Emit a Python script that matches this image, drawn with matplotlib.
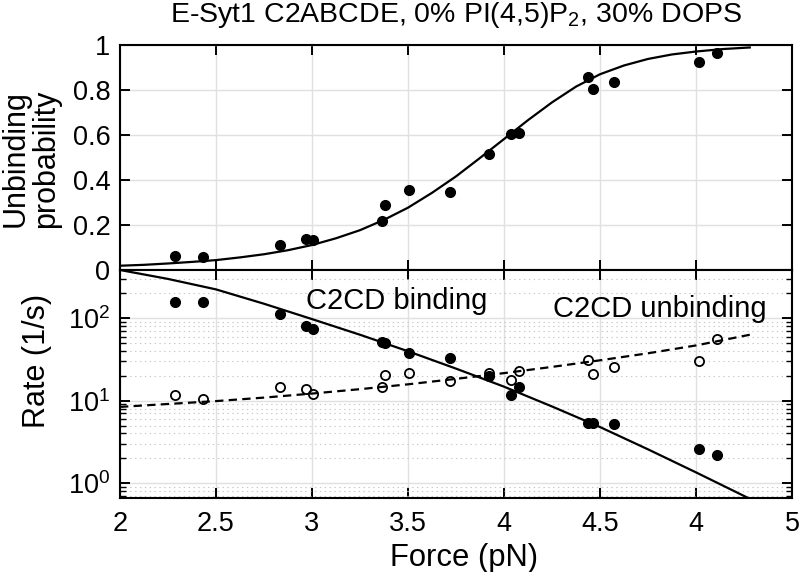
import matplotlib
matplotlib.use("Agg")
import matplotlib.pyplot as plt
from matplotlib.ticker import LogLocator, NullFormatter, FixedLocator

plt.rcParams['font.family'] = ['Liberation Sans', 'DejaVu Sans']
plt.rcParams['mathtext.fontset'] = 'custom'
plt.rcParams['mathtext.rm'] = 'Liberation Sans'
plt.rcParams['mathtext.it'] = 'Liberation Sans:italic'
plt.rcParams['lines.scale_dashes'] = False

# ---------------- data ----------------
force = [2.286, 2.434, 2.833, 2.969, 3.003, 3.363, 3.380, 3.507, 3.719,
         3.924, 4.036, 4.080, 4.439, 4.465, 4.575, 5.016, 5.111]
prob = [0.064, 0.056, 0.110, 0.139, 0.133, 0.219, 0.289, 0.356, 0.345,
        0.516, 0.603, 0.607, 0.856, 0.803, 0.834, 0.923, 0.963]
rate_bind = [159, 158, 112, 81, 74, 52, 50, 38, 33,
             20.0, 11.7, 14.8, 5.3, 5.3, 5.2, 2.6, 2.2]
rate_unbind = [11.8, 10.4, 14.8, 13.8, 12.0, 14.8, 20.4, 21.5, 17.5,
               21.5, 17.9, 23.2, 31.0, 21.3, 25.5, 30.6, 55.6]

# fitted curves
fit_force_p = [2.0, 2.125, 2.25, 2.375, 2.5, 2.625, 2.75, 2.875, 3.0, 3.125,
               3.25, 3.375, 3.5, 3.625, 3.75, 3.875, 4.0, 4.125, 4.25, 4.375,
               4.5, 4.625, 4.75, 4.875, 5.0, 5.14, 5.28]
fit_prob = [0.019, 0.023, 0.029, 0.036, 0.044, 0.056, 0.070, 0.088, 0.111, 0.141,
            0.177, 0.223, 0.277, 0.343, 0.416, 0.498, 0.582, 0.666, 0.745, 0.815,
            0.870, 0.909, 0.938, 0.958, 0.971, 0.982, 0.989]
fit_force_k = [2.0, 2.25, 2.5, 2.75, 3.0, 3.25, 3.5, 3.75, 4.0, 4.25, 4.5, 4.75, 5.0, 5.28]
fit_bind = [385, 300, 224, 150, 97.7, 63.1, 39.8, 24.5, 14.8, 8.51, 4.79, 2.57, 1.35, 0.646]
fit_unbind = [8.41, 9.12, 9.89, 10.9, 12.2, 13.8, 15.8, 18.4, 21.6, 25.7, 30.9, 37.6, 46.8, 63.1]

xticks = [2.0, 2.5, 3.0, 3.5, 4.0, 4.5, 5.0, 5.5]
xticklabels = ['2', '2.5', '3', '3.5', '4', '4.5', '4', '5']
prob_ticks = [0, 0.2, 0.4, 0.6, 0.8, 1.0]
prob_ticklabels = ['0', '0.2', '0.4', '0.6', '0.8', '1']
rate_ticks = [1, 10, 100]
rate_ticklabels = ['$10^0$', '$10^1$', '$10^2$']

title = 'E-Syt1 C2ABCDE, 0% PI(4,5)P$_2$, 30% DOPS'

# ---------------- figure ----------------
fig = plt.figure(figsize=(8, 5.72), dpi=100)
ax1 = fig.add_axes([0.15, 0.52797, 0.84, 0.39336])
ax2 = fig.add_axes([0.15, 0.12937, 0.84, 0.3986])

TICK_FS = 19.5
grid_col = '#e0e0e0'

for ax in (ax1, ax2):
    for s in ax.spines.values():
        s.set_linewidth(1.5)
        s.set_color('black')
    ax.set_xlim(2.0, 5.5)
    ax.set_xticks(xticks)
    ax.tick_params(which='major', direction='in', length=7, width=1.4,
                   top=True, right=True, labelsize=TICK_FS, pad=7)
    ax.tick_params(which='minor', direction='in', length=4, width=1.0,
                   top=True, right=True)
    ax.set_axisbelow(True)
    ax.grid(True, which='major', color=grid_col, linewidth=1.0, linestyle='-')

# top panel
ax1.plot(fit_force_p, fit_prob, color='black', linewidth=1.6, zorder=3)
ax1.plot(force, prob, linestyle='none', marker='o', markersize=7,
         markerfacecolor='black', markeredgecolor='black', zorder=4)
ax1.set_ylim(0, 1)
ax1.set_yticks(prob_ticks)
ax1.set_yticklabels(prob_ticklabels)
ax1.tick_params(axis='x', labelbottom=False)

# bottom panel
ax2.set_yscale('log')
ax2.plot(fit_force_k, fit_bind, color='black', linewidth=1.6, zorder=3)
ax2.plot(fit_force_k, fit_unbind, color='black', linewidth=1.6,
         dashes=(6, 3.8), zorder=3)
ax2.plot(force, rate_unbind, linestyle='none', marker='o', markersize=6.6,
         markerfacecolor='none', markeredgecolor='black', markeredgewidth=1.3, zorder=4)
ax2.plot(force, rate_bind, linestyle='none', marker='o', markersize=7,
         markerfacecolor='black', markeredgecolor='black', zorder=5)
ax2.set_ylim(0.66, 385)
ax2.yaxis.set_major_locator(FixedLocator(rate_ticks))
ax2.set_yticklabels(rate_ticklabels)
ax2.yaxis.set_minor_locator(LogLocator(base=10, subs=[2, 3, 4, 5, 6, 7, 8, 9]))
ax2.yaxis.set_minor_formatter(NullFormatter())
ax2.grid(True, which='minor', axis='y', color='#c8c8c8', linewidth=0.8,
         linestyle=(0, (1, 2.5)))
ax2.set_xticklabels(xticklabels)
ax2.tick_params(axis='x', pad=9)

ax2.text(2.97, 128.5, 'C2CD binding', fontsize=21, ha='left', va='baseline')
ax2.text(4.257, 104.5, 'C2CD unbinding', fontsize=21, ha='left', va='baseline')

# labels
fig.text(456 / 800, 1 - 22.5 / 572, title, fontsize=20.5, ha='center', va='baseline')
fig.text(464 / 800, 1 - 566 / 572, 'Force (pN)', fontsize=22.3, ha='center', va='baseline')
fig.text(31 / 800, 1 - 159 / 572, 'Unbinding\nprobability', fontsize=22,
         rotation=90, ha='center', va='center', linespacing=1.05)
fig.text(37 / 800, 1 - 361 / 572, 'Rate (1/s)', fontsize=22,
         rotation=90, ha='center', va='center')

fig.savefig('out.png', dpi=100)
